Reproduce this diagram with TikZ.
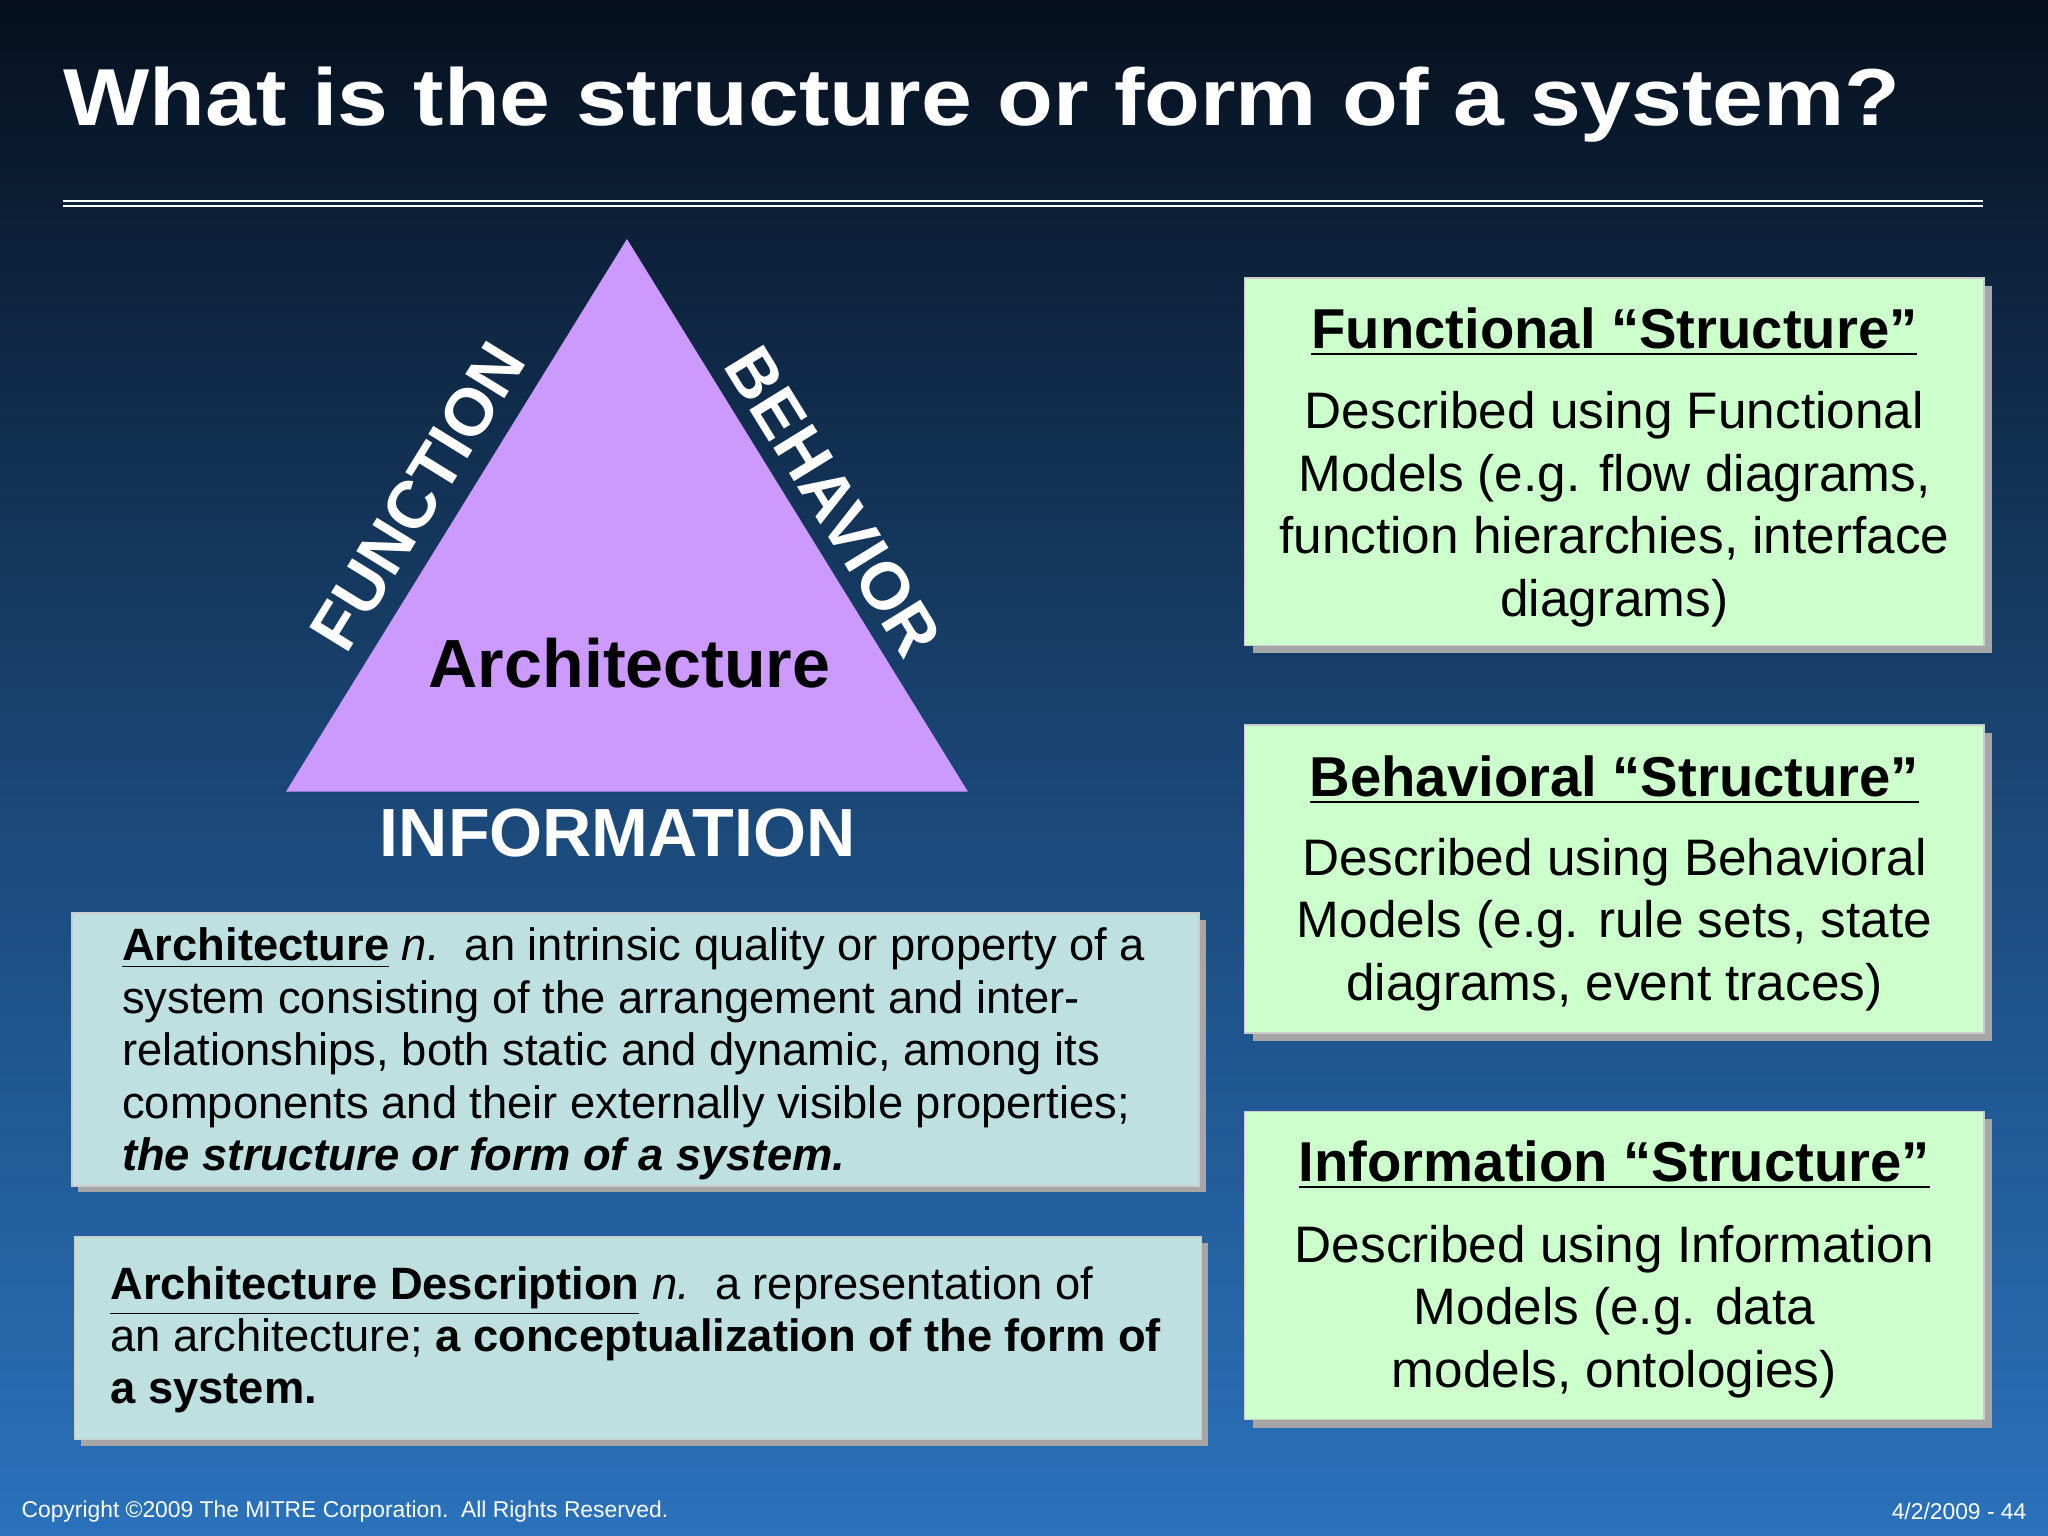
\documentclass[tikz,border=0pt]{standalone}
\usepackage{fontspec}
\setmainfont{Liberation Sans}
\begin{document}
\begin{tikzpicture}[x=0.013061cm,y=-0.013061cm,
  txt/.style={font=\fontsize{14.6}{17.8}\selectfont,align=center},
  ttl/.style={font=\fontsize{16}{19}\bfseries\selectfont},
  tlab/.style={text=white,font=\fontsize{19}{22}\bfseries\selectfont}]
\definecolor{gfill}{HTML}{CCFFCC}
\definecolor{bfill}{HTML}{BFE0E0}
\definecolor{tri}{HTML}{CC99FF}
\definecolor{topc}{HTML}{06101E}
\definecolor{botc}{HTML}{2A72BC}
\useasboundingbox (0,0) rectangle (1568,1176);
\shade[top color=topc,bottom color=botc,middle color=botc!55!topc] (0,0) rectangle (1568,1176);
\node[anchor=west,text=white,font=\fontsize{23}{28}\bfseries\selectfont,xscale=1.13,inner sep=0] (title) at (48,80) {What is the structure or form of a system?};
\draw[white,line width=0.6pt] (48,154) -- (1518,154) (48,158) -- (1518,158);
\coordinate (A) at (480,183); \coordinate (B) at (219,606); \coordinate (C) at (741,606);
\fill[tri] (A) -- (B) -- (C) -- cycle;
\node[rotate=58.3,tlab] (fn) at (320,380) {FUNCTION};
\node[rotate=-58.3,tlab] (bh) at (638,384) {BEHAVIOR};
\node[font=\fontsize{19.4}{23}\bfseries\selectfont] (arch) at (482,508) {Architecture};
\node[tlab,font=\fontsize{19.4}{23}\bfseries\selectfont] (info) at (473,638) {INFORMATION};
% green boxes
\foreach \a/\b in {213/494,555/791,851/1087}{
  \fill[gray!70] (959,\a+6) rectangle (1525,\b+6);
  \filldraw[fill=gfill,draw=gray!40] (953,\a) rectangle (1519,\b);}
\node[ttl] (t1) at (1236,254) {\underline{Functional “Structure”}};
\node[txt] (b1) at (1236,390) {Described using Functional\\Models (e.g. flow diagrams,\\function hierarchies, interface\\diagrams)};
\node[ttl] (t2) at (1236,597) {\underline{Behavioral “Structure”}};
\node[txt] (b2) at (1236,708) {Described using Behavioral\\Models (e.g. rule sets, state\\diagrams, event traces)};
\node[ttl] (t3) at (1236,892) {\underline{Information “Structure”}};
\node[txt] (b3) at (1236,1004) {Described using Information\\Models (e.g. data\\models, ontologies)};
% blue boxes
\foreach \xa/\ya/\xb/\yb in {55/699/918/908,57/947/920/1102}{
  \fill[gray!70] (\xa+5,\ya+5) rectangle (\xb+5,\yb+5);
  \filldraw[fill=bfill,draw=gray!40] (\xa,\ya) rectangle (\xb,\yb);}
\node[anchor=north west,align=left,font=\fontsize{12.9}{14.9}\selectfont,inner sep=0] (d1) at (93,710) {\textbf{\underline{Architecture}} \textit{n.}\ \ an intrinsic quality or property of a\\system consisting of the arrangement and inter-\\relationships, both static and dynamic, among its\\components and their externally visible properties;\\\textbf{\textit{the structure or form of a system.}}};
\node[anchor=north west,align=left,font=\fontsize{12.9}{14.9}\selectfont,inner sep=0] (d2) at (84,969) {\textbf{\underline{Architecture Description}} \textit{n.}\ \ a representation of\\an architecture; \textbf{a conceptualization of the form of}\\\textbf{a system.}};
\node[anchor=west,text=white,font=\fontsize{6.5}{8}\selectfont,inner sep=0] (cp) at (16,1157) {Copyright ©2009 The MITRE Corporation.\ \ All Rights Reserved.};
\node[anchor=east,text=white,font=\fontsize{6.5}{8}\selectfont,inner sep=0] (dt) at (1552,1157) {4/2/2009 - 44};
\end{tikzpicture}
\end{document}
